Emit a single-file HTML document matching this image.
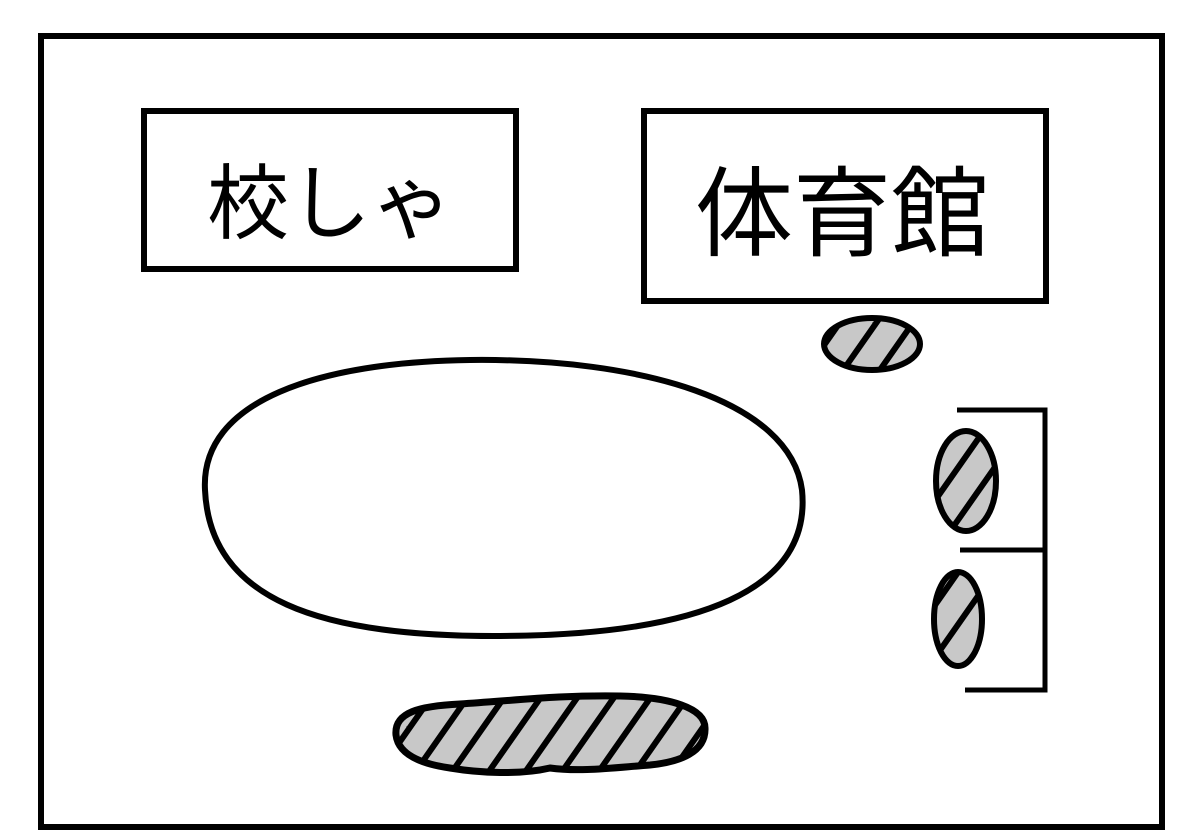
<!DOCTYPE html>
<html><head><meta charset="utf-8"><style>
html,body{margin:0;padding:0;background:#fff;width:1200px;height:840px;overflow:hidden}
svg text{font-family:"Liberation Sans","Noto Sans CJK JP",sans-serif}
</style></head><body>
<svg width="1200" height="840" viewBox="0 0 1200 840" xmlns="http://www.w3.org/2000/svg">
<defs>
<pattern id="h" patternUnits="userSpaceOnUse" width="30" height="30" patternTransform="rotate(35)">
<rect width="30" height="30" fill="#c8c8c8"/>
<rect x="0" y="0" width="6" height="30" fill="#000"/>
</pattern>
</defs>
<rect x="41" y="36" width="1121" height="791" fill="none" stroke="#000" stroke-width="6"/>
<rect x="144" y="111" width="372" height="158" fill="none" stroke="#000" stroke-width="6"/>
<rect x="644" y="111" width="402" height="190" fill="none" stroke="#000" stroke-width="6"/>
<text x="330" y="232" font-size="82" text-anchor="middle">校しゃ</text>
<text x="842" y="248" font-size="98" text-anchor="middle">体育館</text>
<path d="M205,490 C200,400 320,362 470,360 C640,358 790,400 802,490 C812,590 700,635 500,636 C320,637 210,600 205,490 Z" fill="none" stroke="#000" stroke-width="6"/>
<ellipse cx="872" cy="344" rx="48" ry="26" fill="url(#h)" stroke="#000" stroke-width="6"/>
<ellipse cx="966" cy="481" rx="30" ry="50" fill="url(#h)" stroke="#000" stroke-width="6"/>
<ellipse cx="958" cy="619" rx="24" ry="47" fill="url(#h)" stroke="#000" stroke-width="6"/>
<path d="M396,735 C394,712 420,706 460,704 C520,700 560,695 620,696 C670,697 705,708 705,728 C706,752 680,762 650,765 C610,768 580,772 550,768 C520,775 480,773 450,768 C415,763 398,752 396,735 Z" fill="url(#h)" stroke="#000" stroke-width="7"/>
<path d="M957,410 H1045 V690 H965 M960,550 H1045" fill="none" stroke="#000" stroke-width="5"/>
</svg>
</body></html>
